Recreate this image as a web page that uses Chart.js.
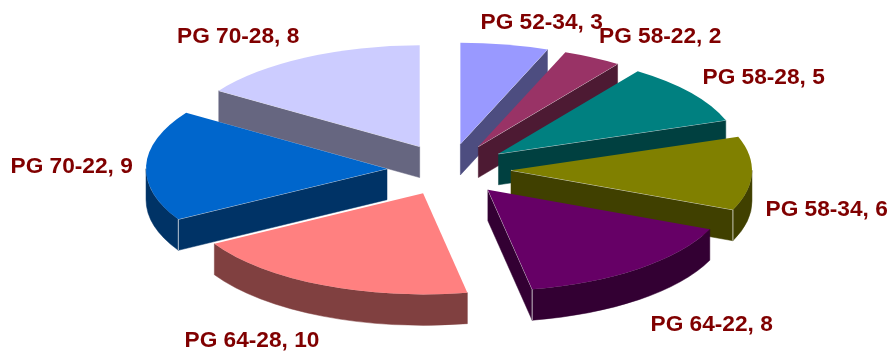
<!DOCTYPE html>
<html>
<head>
<meta charset="utf-8">
<style>
html, body { margin: 0; padding: 0; background: #ffffff; }
canvas { display: block; }
</style>
<script src="https://cdn.jsdelivr.net/npm/chart.js@4/dist/chart.umd.min.js"></script>
</head>
<body>
<canvas id="myChart" width="893" height="352"></canvas>
<script>
'use strict';

let categories = ['PG 52-34', 'PG 58-22', 'PG 58-28', 'PG 58-34', 'PG 64-22', 'PG 64-28', 'PG 70-22', 'PG 70-28'];
let counts = [3, 2, 5, 6, 8, 10, 9, 8];
let topColors = ['#9999ff', '#993366', '#008080', '#808000', '#660066', '#ff8080', '#0066cc', '#ccccff'];
let sideColors = ['#4d4d80', '#4d1a33', '#004040', '#404000', '#330033', '#804040', '#003366', '#666680'];

// where each label starts, the pie labels were placed by hand in the original
let labelX = [480.5, 599, 702.5, 765.5, 650.5, 184.5, 10.5, 177];
let labelY = [29, 43, 84, 216, 331, 347, 173, 43];

let squash = 0.42;   // how flat the pie looks
let depth = 31;      // height of the walls
let gap = 62;        // how far every slice is pulled out

function drawWalls(ctx, cx, cy, r, a, b, color, edgeLine) {
    let ry = r * squash;
    ctx.fillStyle = color;
    ctx.strokeStyle = color;
    ctx.lineWidth = 0.5;

    // straight walls, only the ones facing the viewer
    let edges = [];
    if (Math.sin(a + Math.PI / 2) < -0.001) edges.push(a);
    if (Math.sin(b + Math.PI / 2) > 0.001) edges.push(b);
    edges.forEach(function (t) {
        let px = cx + r * Math.cos(t);
        let py = cy + ry * Math.sin(t);
        ctx.beginPath();
        ctx.moveTo(cx, cy);
        ctx.lineTo(px, py);
        ctx.lineTo(px, py + depth);
        ctx.lineTo(cx, cy + depth);
        ctx.closePath();
        ctx.fill();
        ctx.stroke();
    });

    // curved wall, front half of the rim only
    let from = Math.max(a, 0);
    let to = Math.min(b, Math.PI);
    if (to > from) {
        ctx.beginPath();
        ctx.ellipse(cx, cy, r, ry, 0, from, to);
        ctx.ellipse(cx, cy + depth, r, ry, 0, to, from, true);
        ctx.closePath();
        ctx.fill();
        ctx.stroke();
    }

    // thin light line on the edges that face us
    ctx.strokeStyle = edgeLine;
    ctx.lineWidth = 1;
    edges.forEach(function (t) {
        let px = cx + r * Math.cos(t);
        let py = cy + ry * Math.sin(t);
        ctx.beginPath();
        ctx.moveTo(cx, cy);
        ctx.lineTo(px, py);
        if (Math.sin(t) > 0) ctx.lineTo(px, py + depth);
        ctx.stroke();
    });
}

let pie3d = {
    id: 'pie3d',
    beforeDatasetsDraw(chart) {
        let ctx = chart.ctx;
        let arcs = chart.getDatasetMeta(0).data;
        let order = arcs.map((arc, i) => i);

        // paint from the back of the pie to the front
        function midSin(i) {
            return Math.sin((arcs[i].startAngle + arcs[i].endAngle) / 2);
        }
        order.sort((p, q) => midSin(p) - midSin(q));

        order.forEach(function (i) {
            let arc = arcs[i];
            let mid = (arc.startAngle + arc.endAngle) / 2;
            let cx = arc.x + gap * Math.cos(mid);
            let cy = arc.y + gap * Math.sin(mid) * squash;
            let r = arc.outerRadius;

            drawWalls(ctx, cx, cy, r, arc.startAngle, arc.endAngle, sideColors[i], 'rgba(255,255,255,0.7)');

            ctx.fillStyle = arc.options.backgroundColor;
            ctx.beginPath();
            ctx.moveTo(cx, cy);
            ctx.ellipse(cx, cy, r, r * squash, 0, arc.startAngle, arc.endAngle);
            ctx.closePath();
            ctx.fill();
        });
        return false;
    },
    afterDraw(chart) {
        let ctx = chart.ctx;
        ctx.save();
        ctx.font = 'bold 22.7px "Liberation Sans", Arial, sans-serif';
        ctx.fillStyle = '#800000';
        ctx.textBaseline = 'alphabetic';
        ctx.textAlign = 'left';
        for (let i = 0; i < categories.length; i++) {
            ctx.fillText(categories[i] + ', ' + counts[i], labelX[i], labelY[i]);
        }
        ctx.restore();
    }
};

let myChart = new Chart(document.getElementById('myChart').getContext('2d'), {
    type: 'pie',
    data: {
        labels: categories,
        datasets: [{
            data: counts,
            backgroundColor: topColors,
            borderWidth: 0
        }]
    },
    options: {
        responsive: false,
        animation: false,
        radius: 241,
        layout: { padding: { left: 5, bottom: 13 } },
        plugins: {
            legend: { display: false },
            tooltip: { enabled: false }
        }
    },
    plugins: [pie3d]
});
</script>
</body>
</html>
